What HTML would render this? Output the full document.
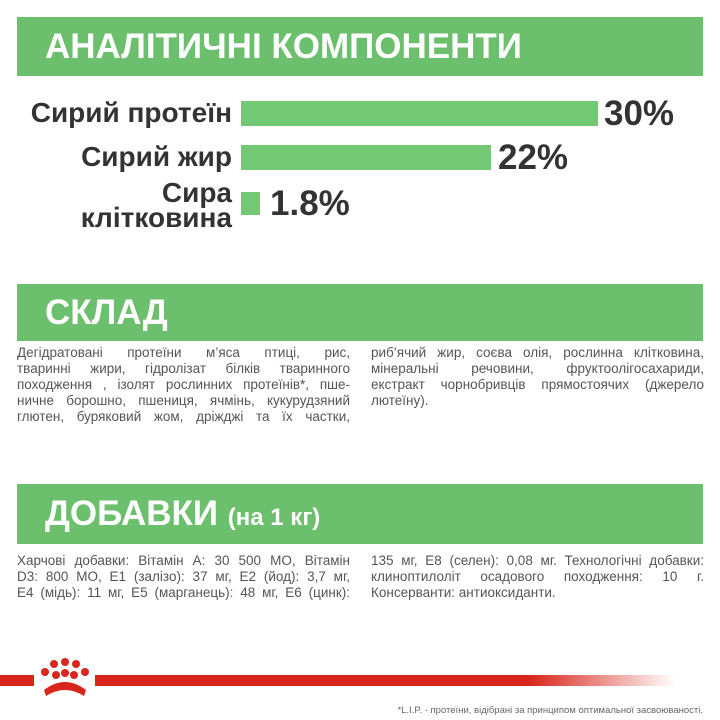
<!DOCTYPE html>
<html><head><meta charset="utf-8"><style>
body{margin:0;width:720px;height:720px;background:#fff;position:relative;overflow:hidden;font-family:"Liberation Sans","DejaVu Sans",sans-serif}
.h{position:absolute;left:17px;width:686px;background:#6cbf6c;color:#fff;font-weight:bold;font-size:35px;box-sizing:border-box;padding-left:28px}
.lbl{position:absolute;font-weight:bold;color:#333;font-size:28px;text-align:right;line-height:27px}
.bar{position:absolute;background:#72c873;left:241px}
.pct{position:absolute;font-weight:bold;color:#333;font-size:35px}
.col{position:absolute;font-size:13.5px;line-height:16px;color:#555;width:333px}
.col div{text-align:justify;text-align-last:justify;white-space:nowrap;height:16px}
.col div.l{text-align-last:left}
</style></head><body>
<div class="h" style="top:17px;height:59px;line-height:59px">АНАЛІТИЧНІ КОМПОНЕНТИ</div>
<div class="lbl" style="right:488px;top:99px">Сирий протеїн</div>
<div class="bar" style="top:101px;width:357px;height:25px"></div>
<div class="pct" style="left:604px;top:94px">30%</div>
<div class="lbl" style="right:488px;top:143px">Сирий жир</div>
<div class="bar" style="top:145px;width:250px;height:25px"></div>
<div class="pct" style="left:498px;top:138px">22%</div>
<div class="lbl" style="right:488px;top:180px;line-height:25px">Сира<br>клітковина</div>
<div class="bar" style="top:192px;width:19px;height:23px"></div>
<div class="pct" style="left:270px;top:184px">1.8%</div>
<div class="h" style="top:284px;height:57px;line-height:57px">СКЛАД</div>
<div class="col" style="left:17px;top:345px"><div>Дегідратовані протеїни м’яса птиці, рис,</div><div>тваринні жири, гідролізат білків тваринного</div><div>походження , ізолят рослинних протеїнів*, пше-</div><div>ничне борошно, пшениця, ячмінь, кукурудзяний</div><div>глютен, буряковий жом, дріжджі та їх частки,</div></div>
<div class="col" style="left:371px;top:345px"><div>риб’ячий жир, соєва олія, рослинна клітковина,</div><div>мінеральні речовини, фруктоолігосахариди,</div><div>екстракт чорнобривців прямостоячих (джерело</div><div class="l">лютеїну).</div></div>
<div class="h" style="top:484px;height:60px;line-height:60px">ДОБАВКИ <span style="font-size:24px">(на 1 кг)</span></div>
<div class="col" style="left:17px;top:553px"><div>Харчові добавки: Вітамін А: 30 500 МО, Вітамін</div><div>D3: 800 МО, E1 (залізо): 37 мг, E2 (йод): 3,7 мг,</div><div>E4 (мідь): 11 мг, E5 (марганець): 48 мг, E6 (цинк):</div></div>
<div class="col" style="left:371px;top:553px"><div>135 мг, E8 (селен): 0,08 мг. Технологічні добавки:</div><div>клиноптилоліт осадового походження: 10 г.</div><div class="l">Консерванти: антиоксиданти.</div></div>
<div style="position:absolute;left:0;top:675px;width:34px;height:11px;background:#d9261c"></div>
<div style="position:absolute;left:95px;top:675px;width:580px;height:11px;background:linear-gradient(to right,#d9261c 0%,#d9261c 75%,rgba(217,38,28,0) 100%)"></div>
<svg style="position:absolute;left:38px;top:658px" width="55" height="42" viewBox="0 0 55 42">
<g fill="#d9261c"><circle cx="16" cy="6" r="4"/><circle cx="27" cy="4" r="4"/><circle cx="38" cy="6" r="4"/><circle cx="7" cy="14" r="4"/><circle cx="47" cy="14" r="4"/><circle cx="18" cy="17" r="4"/><circle cx="27" cy="15" r="4"/><circle cx="36" cy="17" r="4"/>
<path d="M6 32 Q27 16 48 32 L46 38 Q27 26 8 38 Z"/></g></svg>
<div style="position:absolute;right:17px;top:705px;font-size:9.5px;color:#666">*L.I.P. - протеїни, відібрані за принципом оптимальної засвоюваності.</div>
</body></html>
